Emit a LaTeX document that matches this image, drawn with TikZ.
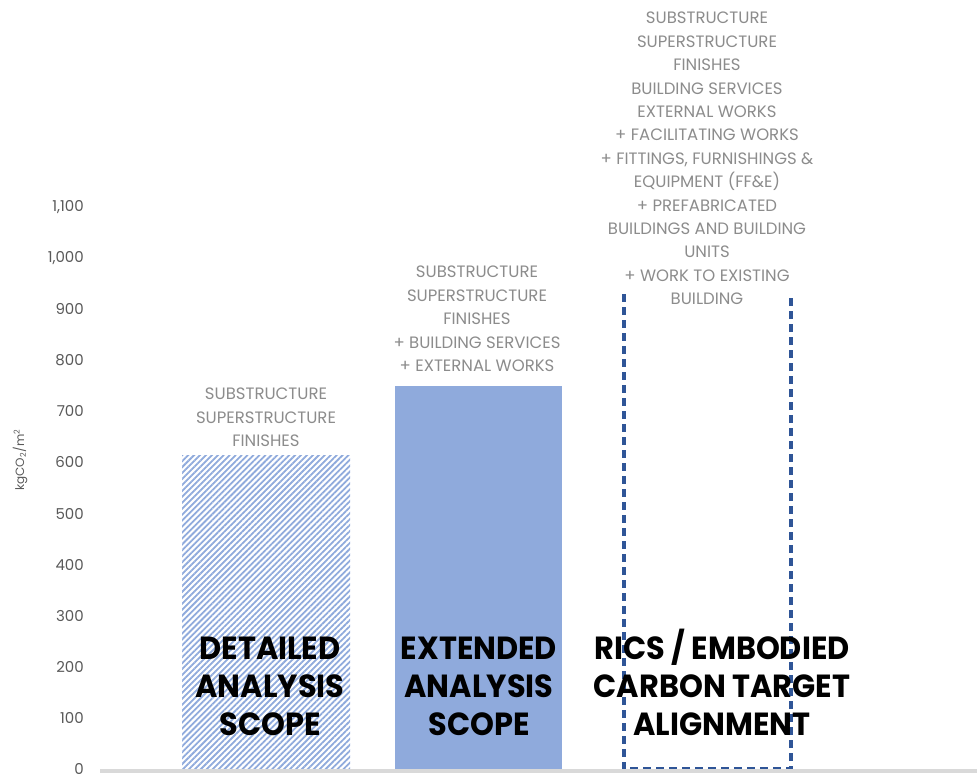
\documentclass[tikz,border=0pt]{standalone}
\usepackage{fontspec}
\setmainfont{Poppins}
\newfontfamily\titlefont[FakeStretch=0.95]{Poppins}
\usetikzlibrary{patterns.meta}
\definecolor{barblue}{HTML}{8FAADC}
\definecolor{dashblue}{HTML}{2F5597}
\definecolor{scopegray}{HTML}{8C8C8C}
\definecolor{tickgray}{HTML}{595959}
\definecolor{axisgray}{HTML}{D9D9D9}

\begin{document}
\begin{tikzpicture}[x=1pt,y=-1pt,
  scope/.style={align=center,anchor=north,inner sep=0pt,text=scopegray,
    font=\fontsize{16.5}{23.4}\selectfont},
  title/.style={align=center,anchor=north,inner sep=0pt,
    font=\titlefont\bfseries\fontsize{32}{38}\selectfont},
  tick/.style={anchor=east,inner sep=0pt,text=tickgray,
    font=\fontsize{15}{18}\selectfont}]
\useasboundingbox (0,0) rectangle (977,774);
\foreach \v/\t in {0/0,100/100,200/200,300/300,400/400,500/500,600/600,700/700,800/800,900/900,1000/{1,000},1100/{1,100}}
  \node[tick] (tick\v) at (84,{769-0.5109*\v}) {\t};
\node[rotate=90,text=tickgray,font=\fontsize{12}{14}\selectfont] (ylabel) at (20,460) {kgCO\textsubscript{2}/m\textsuperscript{2}};
\coordinate (base) at (100,771);
\coordinate (end) at (977,771);
\fill[pattern={Lines[angle=45,distance=4.2pt,line width=1.8pt]},pattern color=barblue] (182,769) rectangle (350,455);
\fill[barblue] (395,769) rectangle (562,386);
\draw[dashblue,line width=3.2pt,dash pattern=on 8pt off 5pt] (624,294) -- (624,769) -- (791,769) -- (791,294);
\draw[axisgray,line width=4pt] (base) -- (end);
\node[scope] (detailtop) at (266,388) {SUBSTRUCTURE\\SUPERSTRUCTURE\\FINISHES};
\node[scope] (extendtop) at (477,266) {SUBSTRUCTURE\\SUPERSTRUCTURE\\FINISHES\\+ BUILDING SERVICES\\+ EXTERNAL WORKS};
\node[scope] (ricstop) at (707,12) {SUBSTRUCTURE\\SUPERSTRUCTURE\\FINISHES\\BUILDING SERVICES\\EXTERNAL WORKS\\+ FACILITATING WORKS\\+ FITTINGS, FURNISHINGS \&\\EQUIPMENT (FF\&E)\\+ PREFABRICATED\\BUILDINGS AND BUILDING\\UNITS\\+ WORK TO EXISTING\\BUILDING};
\node[title] (detail) at (270,637) {DETAILED\\ANALYSIS\\SCOPE};
\node[title] (extend) at (479,637) {EXTENDED\\ANALYSIS\\SCOPE};
\node[title] (rics) at (722,629) {RICS / EMBODIED\\CARBON TARGET\\ALIGNMENT};
\end{tikzpicture}
\end{document}
